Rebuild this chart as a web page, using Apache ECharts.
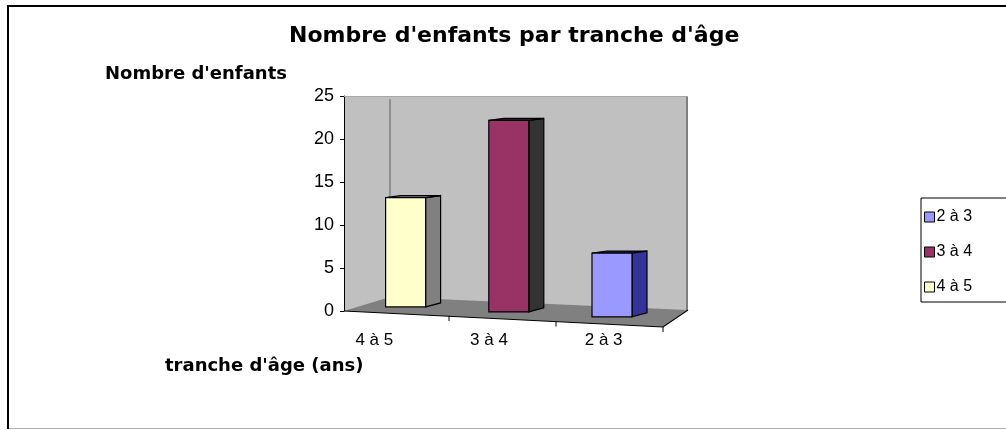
<!DOCTYPE html>
<html>
<head>
<meta charset="utf-8">
<script src="https://cdn.jsdelivr.net/npm/echarts@6/dist/echarts.min.js"></script>
<style>
  html, body { margin: 0; padding: 0; background: #fff; }
  #chart { width: 1006px; height: 430px; }
</style>
</head>
<body>
<div id="chart"></div>
<script>
// data
const categories = ['4 à 5', '3 à 4', '2 à 3'];
const seriesNames = ['2 à 3', '3 à 4', '4 à 5'];   // legend order
const childCounts = { '4 à 5': 12, '3 à 4': 21, '2 à 3': 7 };
const yTicks = [0, 5, 10, 15, 20, 25];

const frontColors = { '2 à 3': '#9999ff', '3 à 4': '#993366', '4 à 5': '#ffffcc' };
const sideColors  = { '2 à 3': '#333399', '3 à 4': '#333333', '4 à 5': '#808080' };

// plot area (back wall)
const GL = 344, GT = 96, GR = 688, GB = 311;

let myChart = echarts.init(document.getElementById('chart'));

function renderBar(params, api) {
  let idx = api.value(0);
  let p0 = api.coord([idx, 0]);
  let p1 = api.coord([idx, api.value(1)]);
  // crude oblique "3d" projection like the old spreadsheet chart
  let fx = GL + (p0[0] - GL) * 0.9 + 10;
  let base = p0[1] - 4 + 0.048 * (fx - 407);
  let h = (p0[1] - p1[1]) * 1.06;
  let top = base - h;
  let w = 40, dx = 15;
  let l = fx - w / 2, r = fx + w / 2;
  let name = params.seriesName;
  let st = { stroke: '#000', lineWidth: 1.2 };
  return {
    type: 'group',
    children: [
      { type: 'polygon', shape: { points: [[r, top], [r + dx, top - 2], [r + dx, base - 4], [r, base]] },
        style: Object.assign({ fill: sideColors[name] }, st) },
      { type: 'polygon', shape: { points: [[l, top], [l + dx, top - 2], [r + dx, top - 2], [r, top]] },
        style: Object.assign({ fill: sideColors[name] }, st) },
      { type: 'rect', shape: { x: l, y: top, width: w, height: base - top },
        style: Object.assign({ fill: frontColors[name] }, st) }
    ]
  };
}

let series = seriesNames.map(function (name) {
  return {
    name: name,
    type: 'custom',
    renderItem: renderBar,
    itemStyle: { color: frontColors[name], borderColor: '#000', borderWidth: 1 },
    data: [[categories.indexOf(name), childCounts[name]]],
    z: 5
  };
});

let option = {
  animation: false,
  backgroundColor: '#fff',
  title: [{
    text: "Nombre d'enfants par tranche d'âge",
    left: 284, top: 20,
    textStyle: { fontFamily: 'DejaVu Sans', fontWeight: 'bold', fontSize: 22, color: '#000' }
  }, {
    text: "Nombre d'enfants",
    left: 100, top: 60,
    textStyle: { fontFamily: 'DejaVu Sans', fontWeight: 'bold', fontSize: 18, color: '#000' }
  }, {
    text: "tranche d'âge (ans)",
    left: 160, top: 352,
    textStyle: { fontFamily: 'DejaVu Sans', fontWeight: 'bold', fontSize: 18, color: '#000' }
  }],
  legend: {
    orient: 'vertical',
    left: 921, top: 198,
    data: seriesNames,
    icon: 'rect',
    itemWidth: 10, itemHeight: 10, itemGap: 19,
    padding: [11, 60, 7, 3],
    borderColor: '#000', borderWidth: 1,
    itemStyle: { borderColor: '#000', borderWidth: 1 },
    textStyle: { fontFamily: 'Liberation Sans', fontSize: 16, color: '#000', padding: [0, 0, 0, -3] }
  },
  grid: {
    left: GL, top: GT, right: 1006 - GR, bottom: 430 - GB,
    show: true, backgroundColor: '#c0c0c0', borderWidth: 0
  },
  xAxis: {
    type: 'category',
    data: categories,
    axisLine: { show: false },
    axisTick: { show: false },
    axisLabel: { margin: 21, padding: [0, 54, 0, 0], fontFamily: 'Liberation Sans', fontSize: 17, color: '#000' }
  },
  yAxis: {
    type: 'value',
    min: yTicks[0], max: yTicks[yTicks.length - 1], interval: 5,
    axisLine: { show: true, lineStyle: { color: '#000', width: 1 } },
    axisTick: { show: true, length: 4, lineStyle: { color: '#000' } },
    axisLabel: { margin: 10, fontFamily: 'Liberation Sans', fontSize: 18, color: '#000' },
    splitLine: { show: false }
  },
  graphic: [
    // outer frame
    { type: 'line', shape: { x1: 7, y1: 6, x2: 1006, y2: 6 }, style: { stroke: '#000', lineWidth: 2 } },
    { type: 'line', shape: { x1: 8, y1: 5, x2: 8, y2: 429 }, style: { stroke: '#000', lineWidth: 2 } },
    { type: 'line', shape: { x1: 9, y1: 428.5, x2: 1006, y2: 428.5 }, style: { stroke: '#b0b0b0', lineWidth: 1 } },
    // side wall corner and right edge of wall
    { type: 'line', z: 1, shape: { x1: 390, y1: GT + 3, x2: 390, y2: 297 }, style: { stroke: '#808080', lineWidth: 1.5 } },
    { type: 'line', z: 1, shape: { x1: GR - 1, y1: GT, x2: GR - 1, y2: 310 }, style: { stroke: '#808080', lineWidth: 2 } },
    { type: 'line', z: 1, shape: { x1: GL, y1: GT + 0.5, x2: GR, y2: GT + 0.5 }, style: { stroke: '#a8a8a8', lineWidth: 1 } },
    // floor
    { type: 'polygon', z: 1, shape: { points: [[GL, GB], [390, 297], [GR - 1, 310], [663, 327], [GL, GB]] },
      style: { fill: '#808080' } },
    // category axis along the front of the floor
    { type: 'polyline', z: 1, shape: { points: [[GL, GB], [663, 327], [GR, 310]] }, style: { stroke: '#000', lineWidth: 1.2, fill: null } },
    { type: 'line', z: 1, shape: { x1: 449, y1: 316, x2: 449, y2: 321 }, style: { stroke: '#000', lineWidth: 1 } },
    { type: 'line', z: 1, shape: { x1: 556, y1: 321.5, x2: 556, y2: 326.5 }, style: { stroke: '#000', lineWidth: 1 } },
    { type: 'line', z: 1, shape: { x1: 663, y1: 327, x2: 663, y2: 332 }, style: { stroke: '#000', lineWidth: 1 } }
  ],
  series: series
};
myChart.setOption(option);
</script>
</body>
</html>
